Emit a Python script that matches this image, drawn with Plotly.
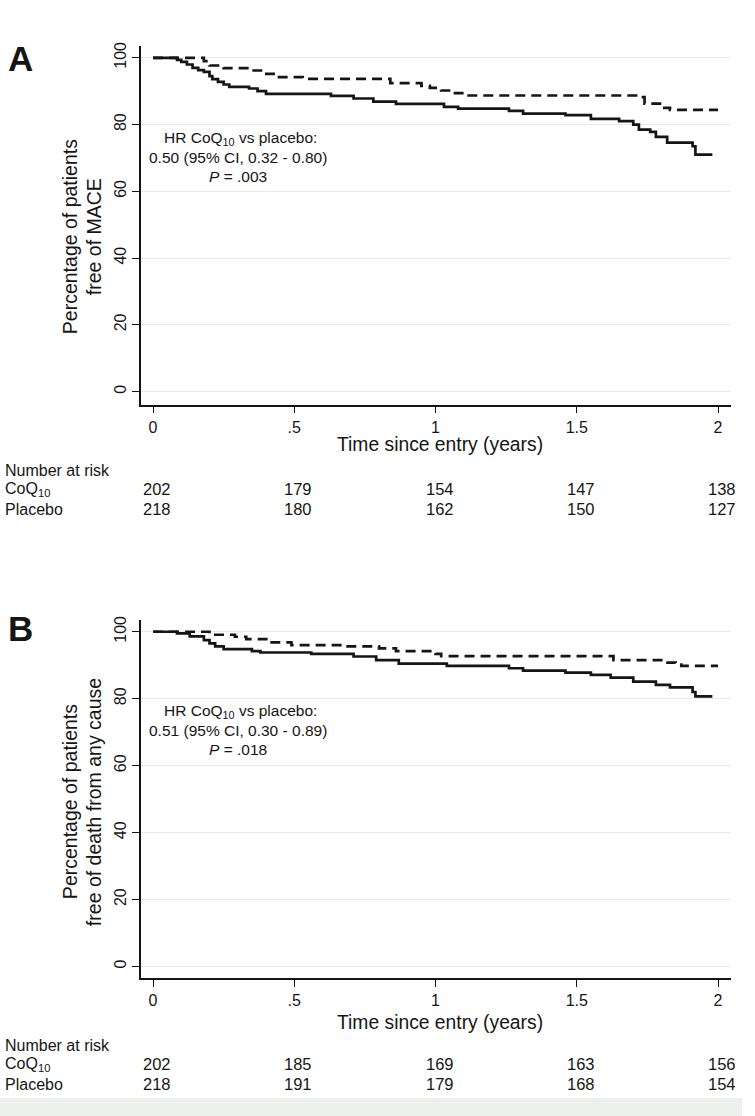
import plotly.graph_objects as go

# Panel A - MACE-free survival (step points: time in years, percent)
a_coq_t = [0, 0.085, 0.10, 0.12, 0.14, 0.16, 0.18, 0.20, 0.21, 0.23, 0.25, 0.27, 0.34, 0.37, 0.40,
           0.63, 0.71, 0.78, 0.86, 1.03, 1.08, 1.26, 1.31, 1.46, 1.55, 1.65, 1.70, 1.72, 1.76,
           1.78, 1.82, 1.91, 1.92, 1.98]
a_coq_v = [100, 99.4, 98.8, 98.0, 97.0, 96.3, 95.8, 94.5, 93.6, 92.8, 92.0, 91.3, 90.8, 90.0, 89.2,
           88.6, 87.8, 86.9, 86.2, 85.3, 84.8, 84.1, 83.3, 82.8, 81.7, 81.0, 80.0, 78.5, 77.8,
           76.3, 74.6, 73.5, 71.0, 71.0]
a_plac_t = [0, 0.18, 0.20, 0.25, 0.34, 0.39, 0.44, 0.53, 0.84, 0.95, 0.98, 1.02, 1.06, 1.11,
            1.71, 1.74, 1.80, 1.83, 2.00]
a_plac_v = [100, 99.0, 97.7, 96.9, 96.2, 95.2, 94.2, 93.7, 92.4, 91.6, 91.0, 90.2, 89.4, 88.7,
            88.2, 86.3, 85.0, 84.4, 84.4]

# Panel B - free of death from any cause
b_coq_t = [0, 0.085, 0.13, 0.18, 0.20, 0.22, 0.25, 0.35, 0.38, 0.56, 0.71, 0.79, 0.87, 1.04,
           1.26, 1.31, 1.46, 1.55, 1.62, 1.70, 1.78, 1.83, 1.91, 1.92, 1.98]
b_coq_v = [100, 99.5, 98.6, 97.5, 96.5, 95.6, 94.8, 94.2, 93.8, 93.4, 92.6, 91.5, 90.5, 89.8,
           89.1, 88.4, 87.8, 87.1, 86.3, 85.1, 84.1, 83.4, 82.0, 80.7, 80.7]
b_plac_t = [0, 0.20, 0.29, 0.33, 0.41, 0.49, 0.68, 0.80, 0.86, 1.00, 1.02, 1.63, 1.81, 1.85,
            1.87, 2.00]
b_plac_v = [100, 99.1, 98.5, 97.8, 96.8, 96.0, 95.6, 95.0, 94.2, 93.4, 92.7, 91.5, 90.8, 90.2,
            89.8, 89.8]

risk_times = [0, 0.5, 1, 1.5, 2]
a_risk_coq = [202, 179, 154, 147, 138]
a_risk_plac = [218, 180, 162, 150, 127]
b_risk_coq = [202, 185, 169, 163, 156]
b_risk_plac = [218, 191, 179, 168, 154]

x_ticks = [0, 0.5, 1, 1.5, 2]
x_ticklabels = ["0", ".5", "1", "1.5", "2"]
y_ticks = [0, 20, 40, 60, 80, 100]

W, H = 755, 1116
INK = "#151515"
ARIAL = "Liberation Sans, Arial, sans-serif"


def px_x(x):
    return x / W


def px_y(y):
    return 1 - y / H


fig = go.Figure()

for xa, ya, coq_t, coq_v, pl_t, pl_v in [
    ("x", "y", a_coq_t, a_coq_v, a_plac_t, a_plac_v),
    ("x2", "y2", b_coq_t, b_coq_v, b_plac_t, b_plac_v),
]:
    fig.add_trace(go.Scatter(x=pl_t, y=pl_v, mode="lines", line_shape="hv",
                             line=dict(color=INK, width=2.7, dash="10px,6px"),
                             xaxis=xa, yaxis=ya, showlegend=False, name="Placebo"))
    fig.add_trace(go.Scatter(x=coq_t, y=coq_v, mode="lines", line_shape="hv",
                             line=dict(color=INK, width=2.7),
                             xaxis=xa, yaxis=ya, showlegend=False, name="CoQ10"))

xaxis_style = dict(range=[-0.0425, 2.046], tickvals=x_ticks, ticktext=x_ticklabels,
                   ticks="outside", ticklen=7, tickwidth=1.3, tickcolor=INK,
                   showline=True, linecolor=INK, linewidth=1.6, showgrid=False,
                   zeroline=False, tickfont=dict(family=ARIAL, size=16, color=INK))
yaxis_style = dict(tickvals=y_ticks, ticks="outside", ticklen=7, tickwidth=1.3, tickcolor=INK,
                   showline=True, linecolor=INK, linewidth=1.6, showgrid=True,
                   gridcolor="#e9e9e9", gridwidth=1.2, zeroline=False, tickangle=-90,
                   tickfont=dict(family=ARIAL, size=16, color=INK))

fig.update_layout(
    width=W, height=H,
    margin=dict(l=0, r=0, t=0, b=0),
    paper_bgcolor="white", plot_bgcolor="white",
    xaxis=dict(domain=[px_x(141), px_x(731)], anchor="y", **xaxis_style),
    yaxis=dict(domain=[px_y(402), px_y(42)], anchor="x", range=[-3.88, 103.58], **yaxis_style),
    xaxis2=dict(domain=[px_x(141), px_x(731)], anchor="y2", **xaxis_style),
    yaxis2=dict(domain=[px_y(978), px_y(618)], anchor="x2", range=[-3.57, 103.57], **yaxis_style),
)

ann = []


def text(x, y, s, size, xanchor="center", angle=0, xref="paper", xshift=0):
    ann.append(dict(x=x, y=y, xref=xref, yref="paper", text=s, showarrow=False,
                    xanchor=xanchor, yanchor="middle", textangle=angle, xshift=xshift,
                    font=dict(family=ARIAL, size=size, color=INK)))


panels = [
    dict(letter="A", ly=55, ytitle2="free of MACE", tcy=234, hr="0.50 (95% CI, 0.32 - 0.80)",
         p=".003", hry=135, xty=442, ry=468, rc=a_risk_coq, rp=a_risk_plac, xref="x"),
    dict(letter="B", ly=627, ytitle2="free of death from any cause", tcy=801,
         hr="0.51 (95% CI, 0.30 - 0.89)", p=".018", hry=710, xty=1022, ry=1045,
         rc=b_risk_coq, rp=b_risk_plac, xref="x2"),
]

for p in panels:
    text(px_x(6), px_y(p["ly"]), "<b>" + p["letter"] + "</b>", 35, xanchor="left")
    text(px_x(70), px_y(p["tcy"]), "Percentage of patients", 19.5, angle=-90)
    text(px_x(94), px_y(p["tcy"]), p["ytitle2"], 19.5, angle=-90)
    text(px_x(240), px_y(p["hry"]), "HR CoQ<sub>10</sub> vs placebo:", 15.5)
    text(px_x(238), px_y(p["hry"] + 19), p["hr"], 15.5)
    text(px_x(238), px_y(p["hry"] + 38), "<i>P</i> = " + p["p"], 15.5)
    text(px_x(440), px_y(p["xty"]), "Time since entry (years)", 19.3)
    text(px_x(3), px_y(p["ry"]), "Number at risk", 16, xanchor="left")
    text(px_x(3), px_y(p["ry"] + 19), "CoQ<sub>10</sub>", 16, xanchor="left")
    text(px_x(3), px_y(p["ry"] + 39), "Placebo", 16, xanchor="left")
    for t, nc, npl in zip(risk_times, p["rc"], p["rp"]):
        text(t, px_y(p["ry"] + 19), str(nc), 16.5, xref=p["xref"], xshift=4)
        text(t, px_y(p["ry"] + 39), str(npl), 16.5, xref=p["xref"], xshift=4)

fig.update_layout(annotations=ann)

# light grey strip at the foot of the figure
fig.add_shape(type="rect", xref="paper", yref="paper", x0=0, x1=px_x(742),
              y0=0, y1=px_y(1098), fillcolor="#eef0ee", line_width=0, layer="below")

fig.write_html("out.html", config={"displayModeBar": False},
               post_script="document.body.style.margin='0';")
